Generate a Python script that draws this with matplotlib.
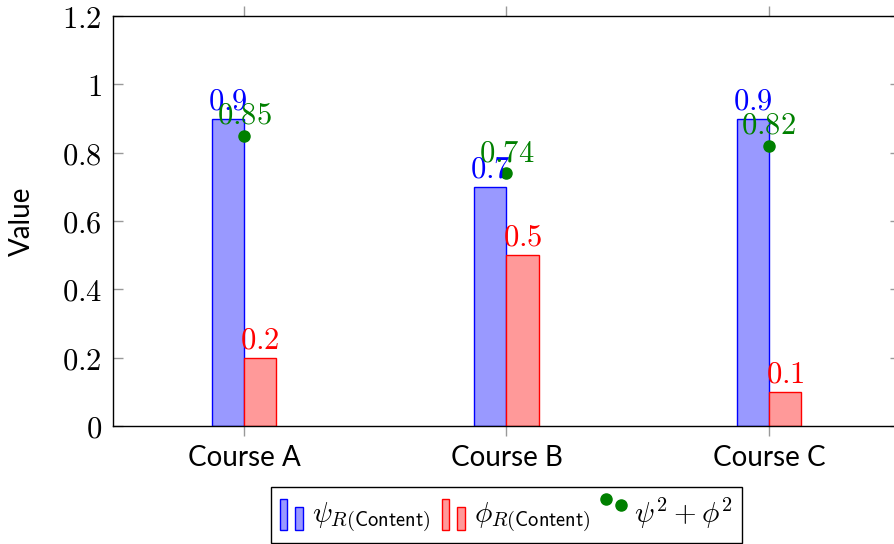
import matplotlib
matplotlib.use("Agg")
import matplotlib.pyplot as plt
from matplotlib.legend_handler import HandlerBase
from matplotlib.patches import Rectangle
from matplotlib.lines import Line2D
from matplotlib.ticker import FuncFormatter
import numpy as np

plt.rcParams['font.family'] = 'Lato'
plt.rcParams['mathtext.fontset'] = 'cm'

# data
courses = ['Course A', 'Course B', 'Course C']
psi_values = [0.9, 0.7, 0.9]
phi_values = [0.2, 0.5, 0.1]
combined_values = [0.85, 0.74, 0.82]

blue_face = '#9999ff'
red_face = '#ff9999'
green = '#008000'


# legend images: two small bars / two marks, pgfplots style
class TwoBars(HandlerBase):
    def create_artists(self, legend, orig_handle, xdescent, ydescent,
                       width, height, fontsize, trans):
        w = width * 0.33
        x0 = -xdescent
        y0 = -ydescent - height * 0.35
        r1 = Rectangle((x0, y0), w, height * 1.5,
                       facecolor=orig_handle.get_facecolor(),
                       edgecolor=orig_handle.get_edgecolor(), lw=1, transform=trans)
        r2 = Rectangle((x0 + width - w, y0), w, height * 1.1,
                       facecolor=orig_handle.get_facecolor(),
                       edgecolor=orig_handle.get_edgecolor(), lw=1, transform=trans)
        return [r1, r2]


class TwoMarks(HandlerBase):
    def create_artists(self, legend, orig_handle, xdescent, ydescent,
                       width, height, fontsize, trans):
        y0 = -ydescent
        m1 = Line2D([-xdescent + width * 0.15], [y0 + height * 1.15], ls='none',
                    marker='o', ms=8, color=green, transform=trans)
        m2 = Line2D([-xdescent + width * 0.8], [y0 + height * 0.85], ls='none',
                    marker='o', ms=8, color=green, transform=trans)
        return [m1, m2]


fig = plt.figure(figsize=(8.94, 5.44), dpi=100)
ax = fig.add_axes([113 / 894, 118 / 544, (900 - 113) / 894, (426 - 16) / 544])

x = np.arange(len(courses))
bw = 0.122

bars_psi = ax.bar(x - bw, psi_values, width=bw, align='edge',
                  facecolor=blue_face, edgecolor='blue', lw=1, zorder=2)
bars_phi = ax.bar(x, phi_values, width=bw, align='edge',
                  facecolor=red_face, edgecolor='red', lw=1, zorder=2)
dots, = ax.plot(x, combined_values, ls='none', marker='o', ms=8,
                color=green, zorder=4)

# value labels above each mark
for xi, v in zip(x, psi_values):
    ax.annotate('$%g$' % v, (xi - bw / 2, v), xytext=(0, 3), textcoords='offset points',
                ha='center', va='bottom', color='blue', fontsize=22, zorder=5)
for xi, v in zip(x, phi_values):
    ax.annotate('$%g$' % v, (xi + bw / 2, v), xytext=(0, 3), textcoords='offset points',
                ha='center', va='bottom', color='red', fontsize=22, zorder=5)
for xi, v in zip(x, combined_values):
    ax.annotate('$%g$' % v, (xi, v), xytext=(0, 5), textcoords='offset points',
                ha='center', va='bottom', color=green, fontsize=22, zorder=6)

ax.set_xlim(-0.5, 2.5)
ax.set_ylim(0, 1.2)
ax.set_xticks(x)
ax.set_xticklabels(courses, fontsize=20)
ax.set_yticks(np.arange(0, 1.21, 0.2))
ax.yaxis.set_major_formatter(FuncFormatter(lambda v, p: '$%g$' % round(v, 1)))
ax.tick_params(axis='y', direction='in', length=7, width=1, color='#999999',
               left=True, right=True, labelsize=22, pad=8)
ax.tick_params(axis='x', direction='out', length=7, width=1, color='#999999',
               top=True, bottom=True, pad=7)
for s in ax.spines.values():
    s.set_linewidth(1)
    s.set_color('black')

ax.set_ylabel('Value', fontsize=20)
ax.yaxis.set_label_coords(-0.099, 0.5)

leg = ax.legend([bars_psi.patches[0], bars_phi.patches[0], dots],
                [r'$\psi_{R(\mathsf{Content})}$', r'$\phi_{R(\mathsf{Content})}$',
                 r'$\psi^2+\phi^2$'],
                handler_map={Rectangle: TwoBars(), Line2D: TwoMarks()},
                loc='upper center', bbox_to_anchor=(0.5, -0.148), ncol=3,
                fontsize=21, frameon=True, fancybox=False, framealpha=1,
                edgecolor='black', handlelength=0.8, handletextpad=0.3,
                columnspacing=0.4, borderpad=0.3, borderaxespad=0)
leg.get_frame().set_linewidth(1)

fig.savefig('out.png', dpi=100)
